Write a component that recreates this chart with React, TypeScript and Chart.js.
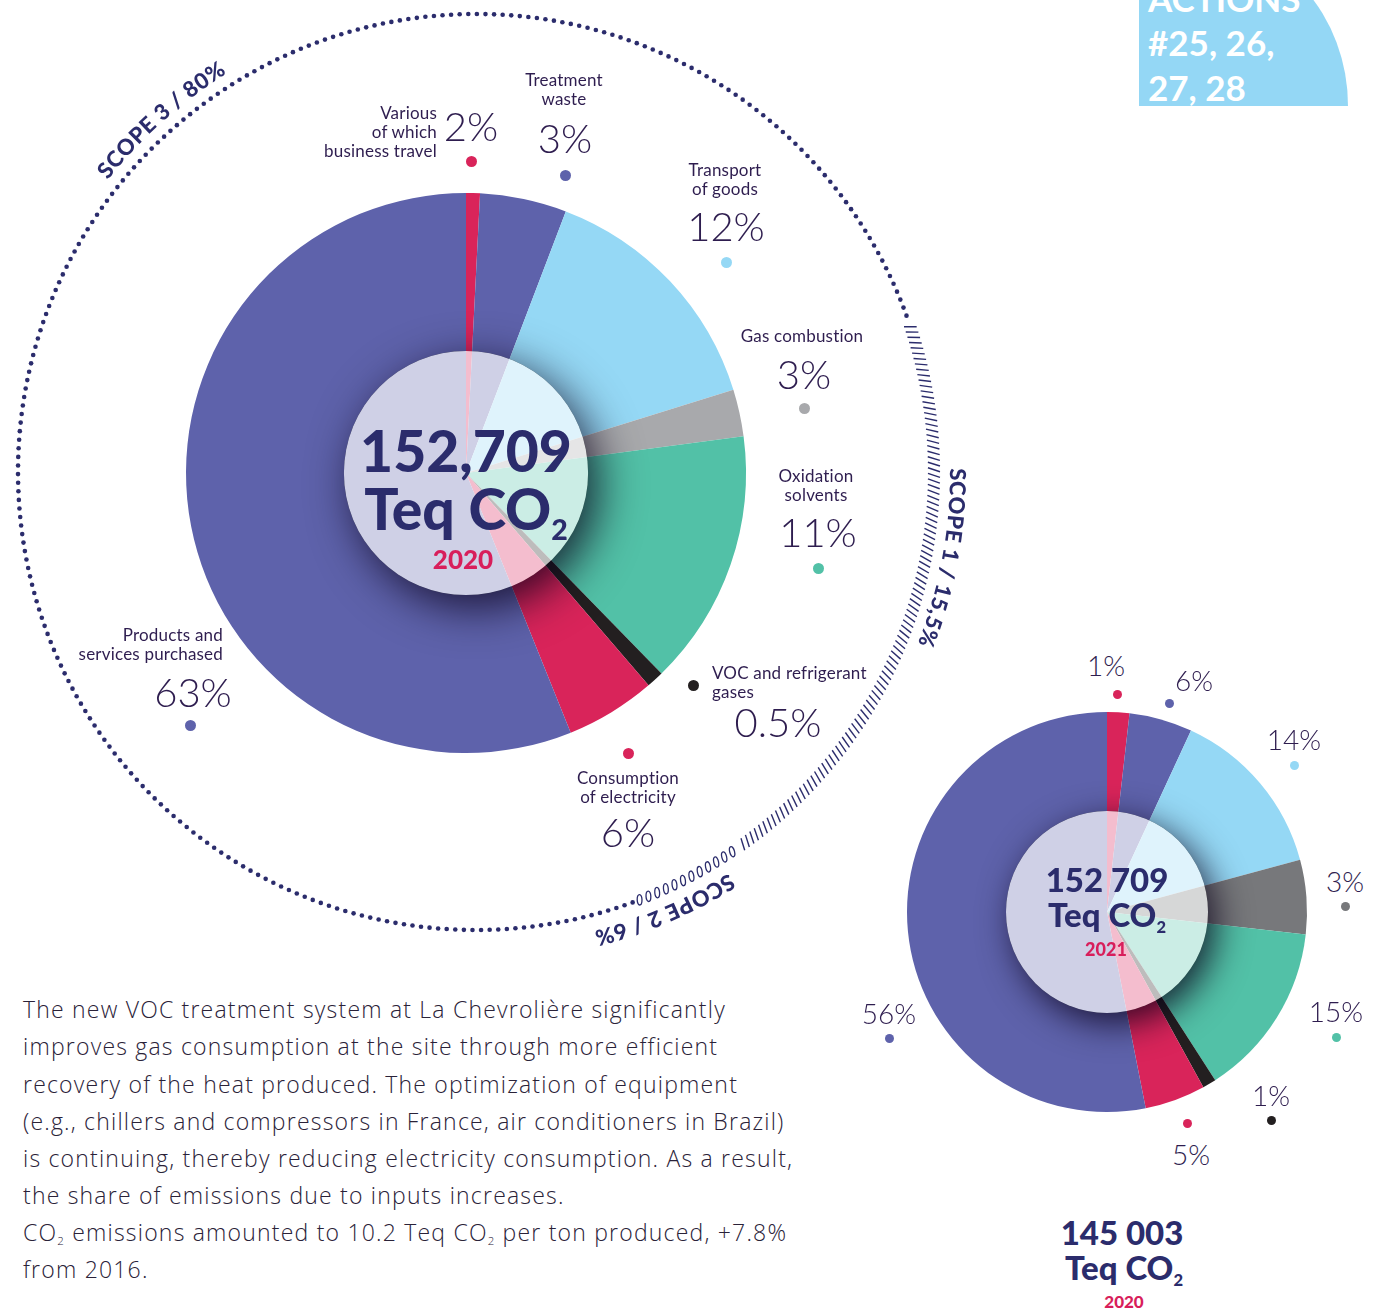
import React, { useEffect, useRef } from "react";
import { Chart, registerables } from "chart.js";
Chart.register(...registerables);

// ---------- DATA ----------
const categories = [
  "Various (of which business travel)",
  "Treatment waste",
  "Transport of goods",
  "Gas combustion",
  "Oxidation solvents",
  "VOC and refrigerant gases",
  "Consumption of electricity",
  "Products and services purchased",
];
const categoryLines = [
  ["Various", "of which", "business travel"],
  ["Treatment", "waste"],
  ["Transport", "of goods"],
  ["Gas combustion"],
  ["Oxidation", "solvents"],
  ["VOC and refrigerant", "gases"],
  ["Consumption", "of electricity"],
  ["Products and", "services purchased"],
];
// slice shares as drawn (percent)
const share2020 = [0.8, 5.0, 14.4, 2.7, 14.8, 1.0, 5.2, 56.1];
const share2021 = [1.8, 5.1, 13.9, 6.0, 14.1, 1.1, 4.9, 53.1];
const pctLabels2020 = ["2%", "3%", "12%", "3%", "11%", "0.5%", "6%", "63%"];
const pctLabels2021 = ["1%", "6%", "14%", "3%", "15%", "1%", "5%", "56%"];
const colors2020 = ["#d9245a", "#5e62ab", "#95d8f5", "#a8a9ac", "#52c1a7", "#231f20", "#d9245a", "#5e62ab"];
const colors2021 = ["#d9245a", "#5e62ab", "#95d8f5", "#77787b", "#52c1a7", "#231f20", "#d9245a", "#5e62ab"];

const scopeTexts = ["SCOPE 3 / 80%", "SCOPE 1 / 15,5%", "SCOPE 2 / 6%"];

const bodyLines = [
  "The new VOC treatment system at La Chevrolière significantly",
  "improves gas consumption at the site through more efficient",
  "recovery of the heat produced. The optimization of equipment",
  "(e.g., chillers and compressors in France, air conditioners in Brazil)",
  "is continuing, thereby reducing electricity consumption. As a result,",
  "the share of emissions due to inputs increases.",
];

// ---------- LAYOUT ----------
const TEXT = "#2e1d4f";
const NAVY = "#2b2c6c";
const RED = "#d81e5b";

type Lay = { align: "left" | "center" | "right"; x: number; ys: number[]; px: number; py: number; dx: number; dy: number };
const bigLayout: Lay[] = [
  { align: "right", x: 437, ys: [113, 132, 151], px: 471, py: 126, dx: 471, dy: 161 },
  { align: "center", x: 564, ys: [80, 99], px: 565, py: 138, dx: 565, dy: 175 },
  { align: "center", x: 725, ys: [170, 189], px: 726, py: 226, dx: 726, dy: 262 },
  { align: "center", x: 802, ys: [336], px: 804, py: 374, dx: 804, dy: 408 },
  { align: "center", x: 816, ys: [476, 495], px: 818, py: 532, dx: 818, dy: 568 },
  { align: "left", x: 712, ys: [673, 692], px: 778, py: 722, dx: 693, dy: 685 },
  { align: "center", x: 628, ys: [778, 797], px: 628, py: 832, dx: 628, dy: 753 },
  { align: "right", x: 223, ys: [635, 654], px: 193, py: 692, dx: 190, dy: 725 },
];
const smallLayout = [
  { px: 1106, py: 666, dx: 1117, dy: 694 },
  { px: 1194, py: 681, dx: 1169, dy: 703 },
  { px: 1294, py: 740, dx: 1294, dy: 765 },
  { px: 1345, py: 882, dx: 1345, dy: 906 },
  { px: 1336, py: 1012, dx: 1336, dy: 1037 },
  { px: 1271, py: 1096, dx: 1271, dy: 1120 },
  { px: 1191, py: 1155, dx: 1187, dy: 1123 },
  { px: 889, py: 1014, dx: 889, dy: 1038 },
];

// ---------- PLUGINS ----------
const hubPlugin = {
  id: "hub",
  afterDatasetsDraw(chart: any) {
    const o = chart.options.plugins.hub;
    if (!o) return;
    const arc = chart.getDatasetMeta(0).data[0] as any;
    const { x, y, outerRadius } = arc;
    const r = outerRadius * o.ratio;
    const ctx = chart.ctx as CanvasRenderingContext2D;
    ctx.save();
    ctx.beginPath();
    ctx.arc(x, y, outerRadius, 0, Math.PI * 2);
    ctx.clip();
    ctx.beginPath();
    ctx.rect(0, 0, chart.width, chart.height);
    ctx.arc(x, y, r, 0, Math.PI * 2, true);
    ctx.clip("evenodd");
    ctx.shadowColor = "rgba(10,0,25,0.8)";
    ctx.shadowBlur = o.blur;
    ctx.shadowOffsetX = o.ox;
    ctx.shadowOffsetY = o.oy;
    ctx.fillStyle = "#000";
    ctx.beginPath();
    ctx.arc(x, y, r, 0, Math.PI * 2);
    ctx.fill();
    ctx.restore();
    ctx.save();
    ctx.fillStyle = "rgba(255,255,255,0.7)";
    ctx.beginPath();
    ctx.arc(x, y, r, 0, Math.PI * 2);
    ctx.fill();
    ctx.restore();
  },
};

const ringPlugin = {
  id: "scopeRing",
  afterDraw(chart: any) {
    const o = chart.options.plugins.scopeRing;
    if (!o || !o.enabled) return;
    const ctx = chart.ctx as CanvasRenderingContext2D;
    const cx = 476, cy = 472, R = 458;
    const rad = (d: number) => (d * Math.PI) / 180;
    const pt = (d: number, r: number) => [cx + r * Math.sin(rad(d)), cy - r * Math.cos(rad(d))];
    ctx.save();
    ctx.fillStyle = NAVY;
    ctx.strokeStyle = NAVY;
    // dotted scope 3
    const dotStep = (8.6 / R) * (180 / Math.PI);
    for (let d = 160; d <= 430.5; d += dotStep) {
      const [x, y] = pt(d, R);
      ctx.beginPath();
      ctx.arc(x, y, 2.3, 0, Math.PI * 2);
      ctx.fill();
    }
    // hatches scope 1
    const hStep = (5.6 / R) * (180 / Math.PI);
    ctx.lineWidth = 1.4;
    for (let d = 71.5; d <= 145; d += hStep) {
      const [x1, y1] = pt(d - 0.25, R - 6);
      const [x2, y2] = pt(d + 0.25, R + 6);
      ctx.beginPath();
      ctx.moveTo(x1, y1);
      ctx.lineTo(x2, y2);
      ctx.stroke();
    }
    // zeros scope 2
    const zStep = (9.5 / R) * (180 / Math.PI);
    ctx.lineWidth = 1.3;
    for (let d = 146; d <= 159.5; d += zStep) {
      const [x, y] = pt(d, R);
      ctx.save();
      ctx.translate(x, y);
      ctx.rotate(rad(d) + 0.35);
      ctx.beginPath();
      ctx.ellipse(0, 0, 2.4, 5.2, 0, 0, Math.PI * 2);
      ctx.stroke();
      ctx.restore();
    }
    // curved texts
    ctx.font = "900 22px Lato";
    ctx.textAlign = "center";
    ctx.textBaseline = "alphabetic";
    const arcText = (text: string, centerDeg: number, r: number) => {
      const sp = 0.6;
      let total = 0;
      for (const ch of text) total += ctx.measureText(ch).width + sp;
      let a = rad(centerDeg) - total / (2 * r);
      for (const ch of text) {
        const w = ctx.measureText(ch).width + sp;
        const ac = a + w / (2 * r);
        ctx.save();
        ctx.translate(cx + r * Math.sin(ac), cy - r * Math.cos(ac));
        ctx.rotate(ac);
        ctx.fillText(ch, 0, 0);
        ctx.restore();
        a += w / r;
      }
    };
    arcText(scopeTexts[0], -41.8, 470);
    arcText(scopeTexts[1], 100.4, 474);
    arcText(scopeTexts[2], 156.7, 474);
    ctx.restore();
  },
};

function makePie(canvas: HTMLCanvasElement, data: number[], colors: string[], padding: any, hub: any, ring: boolean) {
  return new Chart(canvas, {
    type: "pie",
    data: {
      labels: categories,
      datasets: [{ data, backgroundColor: colors, borderWidth: 0, hoverOffset: 0 }],
    },
    options: {
      responsive: false,
      animation: false,
      events: [],
      layout: { padding },
      plugins: {
        legend: { display: false },
        tooltip: { enabled: false },
        hub,
        scopeRing: { enabled: ring },
      } as any,
    },
    plugins: [hubPlugin, ringPlugin],
  });
}

// ---------- UI HELPERS ----------
function T(props: { x: number; y: number; size: number; weight?: number; align?: string; color?: string; children: any; ls?: number; family?: string }) {
  const { x, y, size, weight = 300, align = "center", color = TEXT, children, ls = 0, family } = props;
  const style: any = {
    position: "absolute",
    top: y - 0.6 * size,
    fontSize: size,
    lineHeight: `${1.2 * size}px`,
    fontWeight: weight,
    color,
    whiteSpace: "nowrap",
    letterSpacing: ls,
  };
  if (family) style.fontFamily = family;
  if (align === "center") {
    style.left = x;
    style.transform = "translateX(-50%)";
  } else if (align === "right") {
    style.right = 1386 - x;
    style.textAlign = "right";
  } else {
    style.left = x;
  }
  return <div style={style}>{children}</div>;
}

function Dot({ x, y, color, r = 5.5 }: { x: number; y: number; color: string; r?: number }) {
  return (
    <div
      style={{ position: "absolute", left: x - r, top: y - r, width: 2 * r, height: 2 * r, borderRadius: "50%", background: color }}
    />
  );
}

const Sub = ({ children }: any) => (
  <span style={{ fontSize: "0.5em", verticalAlign: "-0.35em", lineHeight: 0 }}>{children}</span>
);

const BODY_FONT = "'Open Sans', Lato, sans-serif";
const BODY_LS = 1.2;

export default function App() {
  const bigRef = useRef<HTMLCanvasElement>(null);
  const smallRef = useRef<HTMLCanvasElement>(null);

  useEffect(() => {
    const big = makePie(
      bigRef.current!,
      share2020,
      colors2020,
      { left: 186, top: 193, right: 254, bottom: 207 },
      { ratio: 0.436, blur: 45, ox: 10, oy: 12 },
      true
    );
    const small = makePie(
      smallRef.current!,
      share2021,
      colors2021,
      { left: 7, top: 12, right: 13, bottom: 8 },
      { ratio: 0.505, blur: 35, ox: 8, oy: 10 },
      false
    );
    return () => {
      big.destroy();
      small.destroy();
    };
  }, []);

  return (
    <div
      style={{
        position: "absolute",
        left: 0,
        top: 0,
        width: 1386,
        height: 1314,
        overflow: "hidden",
        background: "#fff",
        fontFamily: "Lato, 'Open Sans', sans-serif",
      }}
    >
      <canvas ref={bigRef} width={1000} height={960} style={{ position: "absolute", left: 0, top: 0, width: 1000, height: 960 }} />
      <canvas ref={smallRef} width={420} height={420} style={{ position: "absolute", left: 900, top: 700, width: 420, height: 420 }} />

      {/* ACTIONS badge */}
      <div
        style={{
          position: "absolute",
          left: 1139,
          top: -60,
          width: 209,
          height: 166,
          background: "#94d7f5",
          borderTopRightRadius: "150px 166px",
        }}
      />
      <T x={1148} y={-2} size={35} weight={700} align="left" color="#fff">ACTIONS</T>
      <T x={1148} y={42} size={35} weight={700} align="left" color="#fff">#25, 26,</T>
      <T x={1148} y={87} size={35} weight={700} align="left" color="#fff">27, 28</T>

      {/* big pie labels */}
      {bigLayout.map((l, i) => (
        <React.Fragment key={"b" + i}>
          {categoryLines[i].map((line, j) => (
            <T key={j} x={l.x} y={l.ys[j]} size={17} weight={400} align={l.align} ls={0.2}>
              {line}
            </T>
          ))}
          <T x={l.px} y={l.py} size={40} weight={300}>
            {pctLabels2020[i]}
          </T>
          <Dot x={l.dx} y={l.dy} color={colors2020[i]} />
        </React.Fragment>
      ))}

      {/* big center */}
      <T x={466} y={450} size={57} weight={900} color={NAVY}>152,709</T>
      <T x={466} y={508} size={57} weight={900} color={NAVY}>
        Teq CO<Sub>2</Sub>
      </T>
      <T x={463} y={560} size={26} weight={900} color={RED}>2020</T>

      {/* small pie labels */}
      {smallLayout.map((l, i) => (
        <React.Fragment key={"s" + i}>
          <T x={l.px} y={l.py} size={28} weight={300}>
            {pctLabels2021[i]}
          </T>
          <Dot x={l.dx} y={l.dy} color={colors2021[i]} r={4.5} />
        </React.Fragment>
      ))}
      <T x={1107} y={880} size={33} weight={900} color={NAVY}>152 709</T>
      <T x={1107} y={915} size={33} weight={900} color={NAVY}>
        Teq CO<Sub>2</Sub>
      </T>
      <T x={1106} y={950} size={18} weight={900} color={RED}>2021</T>

      <T x={1122} y={1233} size={33} weight={900} color={NAVY}>145 003</T>
      <T x={1124} y={1268} size={33} weight={900} color={NAVY}>
        Teq CO<Sub>2</Sub>
      </T>
      <T x={1124} y={1302} size={17} weight={900} color={RED}>2020</T>

      {/* body text */}
      {bodyLines.map((line, i) => (
        <T key={"l" + i} x={23} y={1010 + i * 37.2} size={23} weight={300} align="left" color="#2a2238" family={BODY_FONT} ls={BODY_LS}>
          {line}
        </T>
      ))}
      <T x={23} y={1233} size={23} weight={300} align="left" color="#2a2238" family={BODY_FONT} ls={BODY_LS}>
        CO<Sub>2</Sub> emissions amounted to 10.2 Teq CO<Sub>2</Sub> per ton produced, +7.8%
      </T>
      <T x={23} y={1270} size={23} weight={300} align="left" color="#2a2238" family={BODY_FONT} ls={BODY_LS}>
        from 2016.
      </T>
    </div>
  );
}
